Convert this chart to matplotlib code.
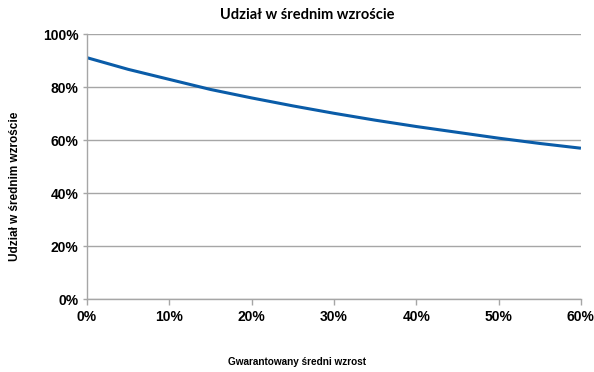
import matplotlib
matplotlib.use("Agg")
import matplotlib.pyplot as plt
from matplotlib.ticker import PercentFormatter

# Guaranteed average growth (x) vs. share in average growth (y)
guaranteed_growth = [0.00, 0.05, 0.10, 0.15, 0.20, 0.25, 0.30, 0.35, 0.40, 0.45, 0.50, 0.55, 0.60]
share_in_growth = [0.912, 0.868, 0.830, 0.792, 0.760, 0.730, 0.702, 0.676, 0.652, 0.630, 0.608, 0.588, 0.570]

x_ticks = [0.0, 0.1, 0.2, 0.3, 0.4, 0.5, 0.6]
y_ticks = [0.0, 0.2, 0.4, 0.6, 0.8, 1.0]

plt.rcParams['font.family'] = ['Liberation Sans', 'DejaVu Sans']

fig = plt.figure(figsize=(5.94, 3.72), dpi=100)
ax = fig.add_axes([0.1465, 0.196, 0.8315, 0.7115])

ax.plot(guaranteed_growth, share_in_growth, color='#0a5ca8', lw=2.2, solid_capstyle='butt')

ax.set_xlim(0, 0.6)
ax.set_ylim(0, 1.0)
ax.set_xticks(x_ticks)
ax.set_yticks(y_ticks)
ax.xaxis.set_major_formatter(PercentFormatter(1.0, decimals=0))
ax.yaxis.set_major_formatter(PercentFormatter(1.0, decimals=0))

grid_color = '#a6a6a6'
ax.grid(axis='y', color=grid_color, lw=1.0)
ax.set_axisbelow(True)
for side in ('top', 'right'):
    ax.spines[side].set_visible(False)
for side in ('left', 'bottom'):
    ax.spines[side].set_color(grid_color)
    ax.spines[side].set_linewidth(1.0)

ax.tick_params(axis='x', direction='out', length=4, width=1, color=grid_color, pad=4)
ax.tick_params(axis='y', direction='out', length=3, width=1, color=grid_color, pad=3)
for lbl in ax.get_xticklabels() + ax.get_yticklabels():
    lbl.set_fontsize(10)
    lbl.set_fontweight('bold')

fig.text(0.518, 0.96, 'Udział w średnim wzroście', ha='center', va='center',
         fontsize=10.5, fontweight='bold', family=['Lato', 'Liberation Sans', 'DejaVu Sans'])
fig.text(0.025, 0.5, 'Udział w średnim wzroście', ha='center', va='center',
         rotation=90, fontsize=8.5, fontweight='bold')
fig.text(0.5, 0.027, 'Gwarantowany średni wzrost', ha='center', va='center',
         fontsize=7.2, fontweight='bold')

fig.savefig('out.png', dpi=100)
